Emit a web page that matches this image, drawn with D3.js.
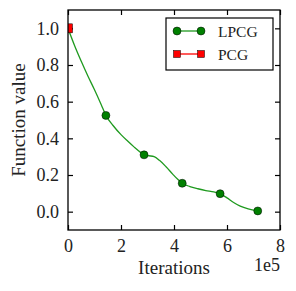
<!DOCTYPE html>
<html>
<head>
<meta charset="utf-8">
<script src="https://cdn.jsdelivr.net/npm/d3@7"></script>
<style>
  body { margin: 0; background: #fff; }
  text { font-family: "Liberation Serif", "DejaVu Serif", serif; fill: #222; }
</style>
</head>
<body>
<svg id="drawing_region"></svg>
<script>
// LPCG curve, x in units of 1e5 iterations
const lpcgX = [0, 0.25, 0.5, 0.75, 1.0, 1.25, 1.43, 1.7, 2.0, 2.25, 2.5, 2.75, 2.87, 3.05, 3.25, 3.45, 3.7, 3.95, 4.15, 4.31, 4.6, 4.9, 5.2, 5.5, 5.74, 6.0, 6.25, 6.5, 6.8, 7.16];
const lpcgY = [1.0, 0.905, 0.82, 0.74, 0.665, 0.585, 0.525, 0.47, 0.42, 0.385, 0.352, 0.322, 0.31, 0.305, 0.30, 0.28, 0.245, 0.205, 0.175, 0.155, 0.137, 0.125, 0.115, 0.108, 0.098, 0.075, 0.05, 0.03, 0.015, 0.004];
const lpcgMarkX = [0, 1.43, 2.87, 4.31, 5.74, 7.16];
const lpcgMarkY = [1.0, 0.525, 0.31, 0.155, 0.098, 0.004];
const pcgX = [0];
const pcgY = [1.0];

const xTicks = [0, 2, 4, 6, 8];
const yTicks = [0.0, 0.2, 0.4, 0.6, 0.8, 1.0];
const seriesNames = ["LPCG", "PCG"];

const config = {
    width: 296,
    height: 291,
    margin: {top: 10, right: 16, bottom: 61, left: 68}
};

const svg = d3.select('#drawing_region')
    .attr('width', config.width)
    .attr('height', config.height);

const w = config.width - config.margin.left - config.margin.right;
const h = config.height - config.margin.top - config.margin.bottom;

svg.append('defs').append('clipPath').attr('id', 'plot-clip')
    .append('rect').attr('width', w).attr('height', h);

const chart = svg.append('g')
    .attr('transform', `translate(${config.margin.left}, ${config.margin.top})`);

const xScale = d3.scaleLinear().domain([0, 8]).range([0, w]);
const yScale = d3.scaleLinear().domain([-0.1, 1.1]).range([h, 0]);

// axes with inward ticks on all four sides
const tickLen = 5;
chart.append('g').attr('transform', `translate(0, ${h})`)
    .call(d3.axisBottom(xScale).tickValues(xTicks).tickSizeInner(-tickLen).tickSizeOuter(0).tickPadding(9).tickFormat(d3.format('d')));
chart.append('g')
    .call(d3.axisTop(xScale).tickValues(xTicks).tickSizeInner(-tickLen).tickSizeOuter(0).tickFormat(''));
chart.append('g')
    .call(d3.axisLeft(yScale).tickValues(yTicks).tickSizeInner(-tickLen).tickSizeOuter(0).tickPadding(9).tickFormat(d3.format('.1f')));
chart.append('g').attr('transform', `translate(${w}, 0)`)
    .call(d3.axisRight(yScale).tickValues(yTicks).tickSizeInner(-tickLen).tickSizeOuter(0).tickFormat(''));

chart.selectAll('.domain').remove();
chart.selectAll('.tick line').attr('stroke', '#000').attr('stroke-width', 1.2);
chart.selectAll('.tick text').style('font-size', '18px').style('font-family', '"Liberation Serif", serif').attr('fill', '#222');

// data layer, clipped to the axes box
const plot = chart.append('g').attr('clip-path', 'url(#plot-clip)');

const lpcg = lpcgX.map((x, i) => ({x: x, y: lpcgY[i]}));
const line = d3.line().x(d => xScale(d.x)).y(d => yScale(d.y)).curve(d3.curveMonotoneX);
plot.append('path')
    .datum(lpcg)
    .attr('d', line)
    .attr('fill', 'none')
    .attr('stroke', '#1f9a1f')
    .attr('stroke-width', 1.3);

plot.selectAll('.lpcg-mark')
    .data(lpcgMarkX.map((x, i) => ({x: x, y: lpcgMarkY[i]})))
    .enter()
    .append('circle')
    .attr('class', 'lpcg-mark')
    .attr('cx', d => xScale(d.x))
    .attr('cy', d => yScale(d.y))
    .attr('r', 4)
    .attr('fill', '#008000')
    .attr('stroke', '#000')
    .attr('stroke-width', 0.5);

plot.selectAll('.pcg-mark')
    .data(pcgX.map((x, i) => ({x: x, y: pcgY[i]})))
    .enter()
    .append('rect')
    .attr('class', 'pcg-mark')
    .attr('x', d => xScale(d.x) - 4.5)
    .attr('y', d => yScale(d.y) - 4.5)
    .attr('width', 9).attr('height', 9)
    .attr('fill', '#ff0000')
    .attr('stroke', '#000')
    .attr('stroke-width', 0.5);

chart.append('rect')
    .attr('width', w).attr('height', h)
    .attr('fill', 'none').attr('stroke', '#000').attr('stroke-width', 1.3);

// legend
const legend = chart.append('g').attr('transform', 'translate(98, 8)');
legend.append('rect')
    .attr('width', 107).attr('height', 52)
    .attr('fill', '#fff').attr('stroke', '#000').attr('stroke-width', 1.2);

const colors = ['#008000', '#ff0000'];
const lineColors = ['#1f9a1f', '#ff0000'];
seriesNames.forEach((name, i) => {
    const y = 13 + i * 23;
    legend.append('line')
        .attr('x1', 11).attr('x2', 35).attr('y1', y).attr('y2', y)
        .attr('stroke', lineColors[i]).attr('stroke-width', 1.3);
    [11, 35].forEach(cx => {
        if (i === 0) {
            legend.append('circle').attr('cx', cx).attr('cy', y).attr('r', 4)
                .attr('fill', colors[i]).attr('stroke', '#000').attr('stroke-width', 0.5);
        } else {
            legend.append('rect').attr('x', cx - 3.5).attr('y', y - 3.5).attr('width', 7).attr('height', 7)
                .attr('fill', colors[i]).attr('stroke', '#000').attr('stroke-width', 0.5);
        }
    });
    legend.append('text')
        .attr('x', 52).attr('y', y + 5.5)
        .style('font-size', '15.5px')
        .text(name);
});

// axis labels
svg.append('text')
    .attr('x', config.margin.left + w / 2).attr('y', 274)
    .attr('text-anchor', 'middle')
    .style('font-size', '19px')
    .text('Iterations');

svg.append('text')
    .attr('x', config.margin.left + w).attr('y', 271)
    .attr('text-anchor', 'end')
    .style('font-size', '18px')
    .text('1e5');

svg.append('text')
    .attr('transform', `translate(25, ${config.margin.top + h / 2}) rotate(-90)`)
    .attr('text-anchor', 'middle')
    .style('font-size', '19px')
    .text('Function value');
</script>
</body>
</html>
